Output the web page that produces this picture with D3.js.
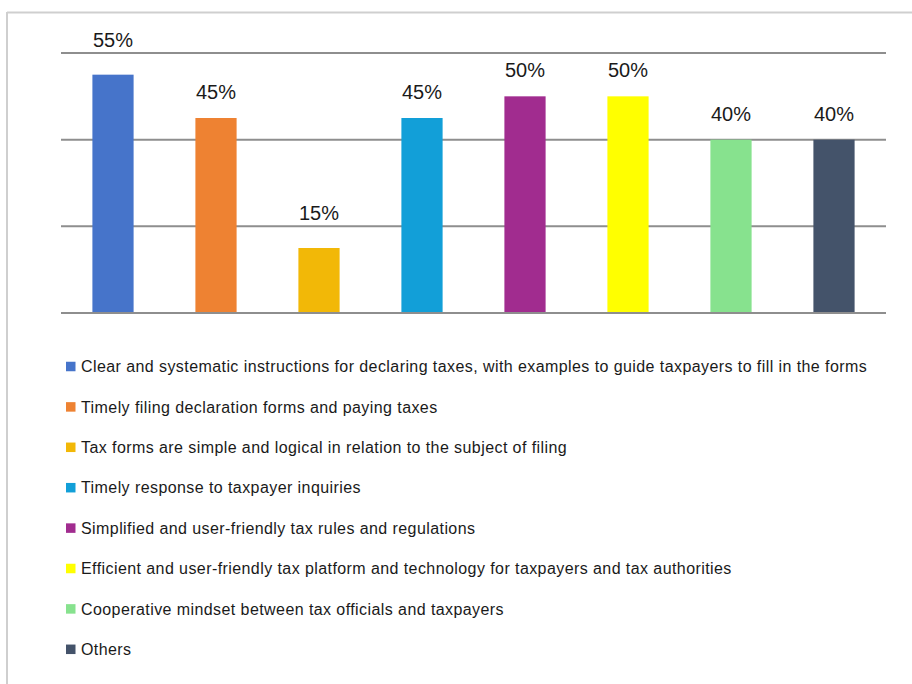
<!DOCTYPE html>
<html>
<head>
<meta charset="utf-8">
<script src="https://cdn.jsdelivr.net/npm/d3@7"></script>
<style>
  html, body { margin: 0; padding: 0; background: #fff; }
  svg { display: block; font-family: "Liberation Sans", Arial, Helvetica, sans-serif; }
</style>
</head>
<body>
<svg id="chart" width="912" height="684"></svg>
<script>
// Survey categories, shares (%) and bar colours
const categories = [
  "Clear and systematic instructions for declaring taxes, with examples to guide taxpayers to fill in the forms",
  "Timely filing declaration forms and paying taxes",
  "Tax forms are simple and logical in relation to the subject of filing",
  "Timely response to taxpayer inquiries",
  "Simplified and user-friendly tax rules and regulations",
  "Efficient and user-friendly tax platform and technology for taxpayers and tax authorities",
  "Cooperative mindset between tax officials and taxpayers",
  "Others"
];
const values = [55, 45, 15, 45, 50, 50, 40, 40];
const colors = ["#4674CA", "#EE8232", "#F2B807", "#129FD8", "#A12C8F", "#FFFF00", "#87E28E", "#44536A"];
const gridTicks = [0, 20, 40, 60];

const svg = d3.select("#chart");

// Frame lines (top and left)
svg.append("line").attr("x1", 7).attr("x2", 912).attr("y1", 12.5).attr("y2", 12.5)
  .attr("stroke", "#cfcfcf").attr("stroke-width", 2);
svg.append("line").attr("x1", 7).attr("x2", 7).attr("y1", 12).attr("y2", 684)
  .attr("stroke", "#cfcfcf").attr("stroke-width", 2);

const x = d3.scaleBand()
  .domain(d3.range(categories.length))
  .range([61.5, 885.5])
  .paddingInner(0.6)
  .paddingOuter(0.3);

const y = d3.scaleLinear().domain([0, 60]).range([313, 53]);

// Horizontal gridlines
svg.append("g")
  .selectAll("line")
  .data(gridTicks)
  .join("line")
  .attr("x1", 61).attr("x2", 886)
  .attr("y1", d => y(d)).attr("y2", d => y(d))
  .attr("stroke", "#8e8e8e").attr("stroke-width", 2);

// Bars
svg.append("g")
  .selectAll("rect")
  .data(values)
  .join("rect")
  .attr("x", (d, i) => x(i))
  .attr("y", d => y(d))
  .attr("width", x.bandwidth())
  .attr("height", d => y(0) - y(d) - 1)
  .attr("fill", (d, i) => colors[i]);

// Value labels: sit just above the bar, lifted over a gridline when they would cross it
function labelBaseline(v) {
  let base = y(v) - 19;
  gridTicks.forEach(t => {
    const gy = y(t);
    if (gy > base - 15 && gy < base + 3) base = gy - 6;
  });
  return base;
}

svg.append("g")
  .selectAll("text")
  .data(values)
  .join("text")
  .attr("x", (d, i) => x(i) + x.bandwidth() / 2)
  .attr("y", d => labelBaseline(d))
  .attr("text-anchor", "middle")
  .attr("font-size", 20)
  .attr("fill", "#1a1a1a")
  .text(d => d + "%");

// Legend
const legend = svg.append("g")
  .selectAll("g")
  .data(categories)
  .join("g")
  .attr("transform", (d, i) => `translate(66, ${366.5 + i * 40.4})`);

legend.append("rect")
  .attr("x", 0).attr("y", -4.75)
  .attr("width", 9.5).attr("height", 9.5)
  .attr("fill", (d, i) => colors[i]);

legend.append("text")
  .attr("x", 15)
  .attr("y", 0)
  .attr("dy", "0.35em")
  .attr("font-size", 16)
  .attr("letter-spacing", 0.42)
  .attr("fill", "#1a1a1a")
  .text(d => d);
</script>
</body>
</html>
